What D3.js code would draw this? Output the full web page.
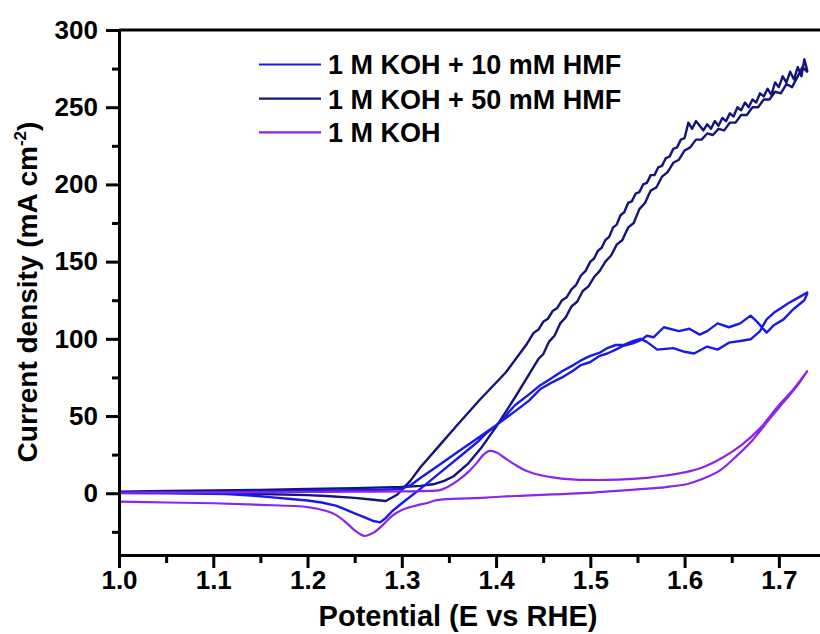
<!DOCTYPE html>
<html lang="en">
<head>
<meta charset="utf-8">
<title>Cyclic voltammetry - HMF oxidation</title>
<script src="https://d3js.org/d3.v7.min.js"></script>
<style>
  body { margin: 0; background: #fff; }
  svg { display: block; font-family: Arial, "Liberation Sans", sans-serif; font-weight: bold; }
  .tick text { font-size: 26px; font-weight: bold; fill: #000; }
</style>
</head>
<body>
<div id="chart"></div>
<script>
// 1 M KOH (forward scan, then reverse scan)
const kohFwdE = [1.00,1.05,1.10,1.15,1.20,1.25,1.30,1.33,1.34,1.345,1.35,1.36,1.37,1.38,1.386,1.392,1.40,1.41,1.42,1.43,1.44,1.46,1.48,1.50,1.53,1.56,1.58,1.60,1.62,1.64,1.66,1.68,1.70,1.715,1.73];
const kohFwdI = [0.3,0.4,0.5,0.6,0.8,1.0,1.2,1.5,2.0,3.0,4.5,8.5,13.5,20,24.5,27.3,26.5,22.5,18.5,15,12.8,10.3,9.0,8.6,8.8,10,11.5,13.5,17,23,31,42,57,67,79];
const kohRevE = [1.73,1.72,1.705,1.69,1.673,1.655,1.638,1.62,1.603,1.58,1.55,1.52,1.496,1.46,1.43,1.408,1.39,1.36,1.337,1.327,1.315,1.30,1.29,1.28,1.27,1.26,1.25,1.24,1.23,1.22,1.20,1.15,1.10,1.05,1.00];
const kohRevI = [79,70,59,48,35,24,15,9.5,6,4,2.5,1.2,0.2,-0.8,-1.6,-2.1,-2.8,-3.5,-4.5,-6.3,-8,-10.8,-14.5,-20.5,-25.5,-27.6,-24,-18.5,-14,-11.5,-9,-7.5,-6.5,-6,-5.4];

// 1 M KOH + 10 mM HMF
const hmf10FwdE = [1.00,1.05,1.10,1.15,1.20,1.25,1.28,1.30,1.31,1.32,1.34,1.36,1.38,1.40,1.42,1.435,1.447,1.46,1.47,1.482,1.49,1.50,1.51,1.518,1.527,1.535,1.545,1.553,1.56,1.567,1.578,1.594,1.605,1.616,1.624,1.635,1.647,1.659,1.67,1.677,1.687,1.695,1.705,1.715,1.727,1.73];
const hmf10FwdI = [0.3,0.6,0.9,1.2,1.6,2.0,2.3,2.8,5.5,10,18.5,27,35.5,44,53,60,67.5,72,75,79.5,83,85,89,90.5,93,95.5,97,99,102,101,107.5,105,106.5,102.7,105,110,107.5,110,115,111,104,109,112.6,119,125,129];
const hmf10RevE = [1.73,1.723,1.71,1.70,1.695,1.687,1.68,1.67,1.659,1.647,1.635,1.624,1.61,1.60,1.588,1.571,1.56,1.553,1.545,1.535,1.527,1.518,1.51,1.50,1.49,1.482,1.47,1.46,1.447,1.435,1.42,1.404,1.39,1.38,1.36,1.34,1.32,1.30,1.29,1.283,1.277,1.27,1.26,1.25,1.24,1.23,1.215,1.20,1.185,1.16,1.14,1.114,1.08,1.05,1.00];
const hmf10RevI = [130,127.5,123,119,117,112.6,105,99.7,98.6,97.5,93,95,90.5,91.6,94,93,98,100,98.5,96,96,94,91,89,86,83,79,75,70,64,57,46,39,33,23,13,3,-6.5,-11.5,-16,-18.9,-18,-15.5,-13,-10.5,-8,-6,-4.7,-3.9,-2.5,-1.5,-0.6,-0.2,0,0.2];

// 1 M KOH + 50 mM HMF
const hmf50FwdE = [1.00,1.05,1.10,1.15,1.20,1.25,1.30,1.32,1.335,1.345,1.355,1.37,1.385,1.40,1.42,1.44,1.445,1.45,1.456,1.462,1.468,1.474,1.48,1.486,1.492,1.498,1.504,1.51,1.516,1.522,1.528,1.534,1.54,1.546,1.552,1.558,1.564,1.57,1.576,1.582,1.588,1.594,1.60,1.606,1.612,1.618,1.624,1.63,1.636,1.642,1.648,1.654,1.66,1.666,1.672,1.678,1.684,1.69,1.696,1.702,1.708,1.714,1.72,1.725,1.73];
const hmf50FwdI = [1.0,1.4,1.8,2.2,2.7,3.3,4.0,4.8,6,8,11,19,30,43,62,82,87,90,98,102,110,114,121,124,131,134,140,144,150,154,161,164,172,175,184,188,196,198,205,208,214,216,222,224,229,229,233,232,236,235,240,240,245,245,250,250,255,255,260,259,265,263,270,276,273];
const hmf50RevE = [1.73,1.727,1.724,1.72,1.716,1.712,1.708,1.704,1.70,1.696,1.692,1.688,1.684,1.68,1.676,1.672,1.668,1.664,1.66,1.656,1.652,1.648,1.644,1.64,1.636,1.632,1.628,1.624,1.62,1.616,1.612,1.608,1.604,1.60,1.596,1.592,1.588,1.584,1.58,1.576,1.572,1.568,1.564,1.56,1.556,1.552,1.548,1.544,1.54,1.536,1.532,1.528,1.524,1.52,1.516,1.512,1.508,1.504,1.50,1.495,1.49,1.485,1.48,1.475,1.47,1.465,1.46,1.455,1.45,1.445,1.44,1.433,1.41,1.383,1.36,1.34,1.32,1.309,1.295,1.283,1.27,1.25,1.22,1.20,1.15,1.10,1.05,1.00];
const hmf50RevI = [274,281,270,276,268,273,266,270,263,266,258,262,257,259,253,255,250,253,248,250,244,246,241,243,238,241,236,239,235,238,241,236,240,230,229,224,223,218,217,212,211,206,206,201,200,195,194,189,188,182,180,174,172,166,164,159,157,152,150,144,141,135,132,127,125,120,118,113,111,106,104,97,78,60.7,45,31,17,8,-1,-5,-4.2,-3,-1.8,-1.2,-0.5,0,0.3,0.5];

const legendLabels = ["1 M KOH + 10 mM HMF", "1 M KOH + 50 mM HMF", "1 M KOH"];
const xTicks = [1.0, 1.1, 1.2, 1.3, 1.4, 1.5, 1.6, 1.7];
const yTicks = [0, 50, 100, 150, 200, 250, 300];

const width = 820, height = 634;
const margin = {top: 30, right: -6, bottom: 79, left: 119};

const svg = d3.select("#chart").append("svg")
    .attr("width", width)
    .attr("height", height);

const x = d3.scaleLinear().domain([1.0, 1.75]).range([margin.left, width - margin.right]);
const y = d3.scaleLinear().domain([-40, 300]).range([height - margin.bottom, margin.top]);

const series = [
  {name: legendLabels[0], color: "#1a1ae6", width: 2.4, curve: d3.curveLinear,
   E: hmf10FwdE.concat(hmf10RevE), I: hmf10FwdI.concat(hmf10RevI)},
  {name: legendLabels[1], color: "#14147a", width: 2.4, curve: d3.curveLinear,
   E: hmf50FwdE.concat(hmf50RevE), I: hmf50FwdI.concat(hmf50RevI)},
  {name: legendLabels[2], color: "#8a26ea", width: 2.2, curve: d3.curveCatmullRom,
   E: kohFwdE.concat(kohRevE), I: kohFwdI.concat(kohRevI)}
];

// draw order: 50 mM behind, then 10 mM, then KOH on top
[series[1], series[0], series[2]].forEach(s => {
  const line = d3.line()
      .curve(s.curve)
      .x(d => x(d[0]))
      .y(d => y(d[1]));
  svg.append("path")
      .datum(s.E.map((e, i) => [e, s.I[i]]))
      .attr("fill", "none")
      .attr("stroke", s.color)
      .attr("stroke-width", s.width)
      .attr("stroke-linejoin", "round")
      .attr("d", line);
});

// frame top
svg.append("line")
    .attr("x1", x(1.0)).attr("x2", x(1.75))
    .attr("y1", y(300)).attr("y2", y(300))
    .attr("stroke", "#000").attr("stroke-width", 3);

// minor ticks
svg.append("g")
    .attr("transform", `translate(0,${y(-40)})`)
    .call(d3.axisBottom(x).tickValues(d3.range(1.05, 1.75, 0.1)).tickSize(8).tickFormat(""))
    .call(g => g.select(".domain").remove())
    .call(g => g.selectAll("line").attr("stroke-width", 3));
svg.append("g")
    .attr("transform", `translate(${x(1.0)},0)`)
    .call(d3.axisLeft(y).tickValues([-25, 25, 75, 125, 175, 225, 275]).tickSize(7).tickFormat(""))
    .call(g => g.select(".domain").remove())
    .call(g => g.selectAll("line").attr("stroke-width", 3));

// major axes
svg.append("g")
    .attr("transform", `translate(0,${y(-40)})`)
    .call(d3.axisBottom(x).tickValues(xTicks).tickSize(13).tickSizeOuter(0).tickPadding(3).tickFormat(d3.format(".1f")))
    .call(g => g.select(".domain").attr("stroke-width", 3))
    .call(g => g.selectAll(".tick line").attr("stroke-width", 3));
svg.append("g")
    .attr("transform", `translate(${x(1.0)},0)`)
    .call(d3.axisLeft(y).tickValues(yTicks).tickSize(13).tickSizeOuter(0).tickPadding(8))
    .call(g => g.select(".domain").attr("stroke-width", 3))
    .call(g => g.selectAll(".tick line").attr("stroke-width", 3));

// axis titles
svg.append("text")
    .attr("x", 458).attr("y", 626)
    .attr("text-anchor", "middle")
    .style("font-size", "29px")
    .text("Potential (E vs RHE)");

const yTitle = svg.append("text")
    .attr("transform", `translate(37,292) rotate(-90)`)
    .attr("text-anchor", "middle")
    .style("font-size", "28px");
yTitle.append("tspan").text("Current density (mA cm");
yTitle.append("tspan").attr("dy", -11).style("font-size", "17px").text("-2");
yTitle.append("tspan").attr("dy", 11).text(")");

// legend
const legendY = [64.5, 98.7, 132.3];
series.forEach((s, i) => {
  svg.append("line")
      .attr("x1", 259).attr("x2", 321)
      .attr("y1", legendY[i]).attr("y2", legendY[i])
      .attr("stroke", s.color).attr("stroke-width", 2.2);
  svg.append("text")
      .attr("x", 328).attr("y", legendY[i] + 9.8)
      .style("font-size", "27px")
      .text(s.name);
});
</script>
</body>
</html>
